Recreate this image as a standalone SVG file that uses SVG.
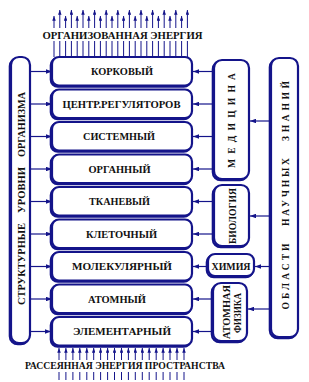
<svg xmlns="http://www.w3.org/2000/svg" width="309" height="382" viewBox="0 0 309 382">
<style>
.bx{fill:#fff;stroke:#14148a;stroke-width:2.2}
.sh{fill:none;stroke:#14148a;stroke-width:2.2}
.t{font-family:"Liberation Serif","Times New Roman",serif;font-weight:bold;font-size:10.5px;fill:#111;text-anchor:middle}
.s{font-family:"Liberation Serif","Times New Roman",serif;font-weight:bold;font-size:9.5px;fill:#111;text-anchor:middle}
.c{stroke:#14148a;stroke-width:1.2;fill:none}
.ca{stroke:#14148a;stroke-width:1;fill:none}
</style>
<defs>
<marker id="ah" viewBox="0 0 8 6" refX="8" refY="3" markerWidth="6" markerHeight="4.5" markerUnits="userSpaceOnUse" orient="auto"><path d="M0,0L8,3L0,6z" fill="#14148a"/></marker>
<marker id="au" viewBox="0 0 8 6" refX="8" refY="3" markerWidth="5" markerHeight="3.5" markerUnits="userSpaceOnUse" orient="auto"><path d="M0,0L8,3L0,6z" fill="#14148a"/></marker>
</defs>

<g id="top-energy">
<text class="s" x="122.5" y="38.5" textLength="160" lengthAdjust="spacingAndGlyphs">ОРГАНИЗОВАННАЯ ЭНЕРГИЯ</text>
<g class="ca">
<line x1="54" y1="28" x2="54" y2="16" marker-end="url(#au)"/>
<line x1="59.8" y1="28" x2="59.8" y2="10" marker-end="url(#au)"/>
<line x1="65.6" y1="28" x2="65.6" y2="16" marker-end="url(#au)"/>
<line x1="71.4" y1="28" x2="71.4" y2="10" marker-end="url(#au)"/>
<line x1="77.2" y1="28" x2="77.2" y2="16" marker-end="url(#au)"/>
<line x1="83" y1="28" x2="83" y2="10" marker-end="url(#au)"/>
<line x1="88.8" y1="28" x2="88.8" y2="16" marker-end="url(#au)"/>
<line x1="94.6" y1="28" x2="94.6" y2="10" marker-end="url(#au)"/>
<line x1="100.4" y1="28" x2="100.4" y2="16" marker-end="url(#au)"/>
<line x1="106.2" y1="28" x2="106.2" y2="10" marker-end="url(#au)"/>
<line x1="112" y1="28" x2="112" y2="16" marker-end="url(#au)"/>
<line x1="117.8" y1="28" x2="117.8" y2="10" marker-end="url(#au)"/>
<line x1="123.6" y1="28" x2="123.6" y2="16" marker-end="url(#au)"/>
<line x1="129.4" y1="28" x2="129.4" y2="10" marker-end="url(#au)"/>
<line x1="135.2" y1="28" x2="135.2" y2="16" marker-end="url(#au)"/>
<line x1="141" y1="28" x2="141" y2="10" marker-end="url(#au)"/>
<line x1="146.8" y1="28" x2="146.8" y2="16" marker-end="url(#au)"/>
<line x1="152.6" y1="28" x2="152.6" y2="10" marker-end="url(#au)"/>
<line x1="158.4" y1="28" x2="158.4" y2="16" marker-end="url(#au)"/>
<line x1="164.2" y1="28" x2="164.2" y2="10" marker-end="url(#au)"/>
<line x1="170" y1="28" x2="170" y2="16" marker-end="url(#au)"/>
<line x1="175.8" y1="28" x2="175.8" y2="10" marker-end="url(#au)"/>
<line x1="181.6" y1="28" x2="181.6" y2="16" marker-end="url(#au)"/>
<line x1="187.4" y1="28" x2="187.4" y2="10" marker-end="url(#au)"/>
<path d="M54,41V57M59.8,41V57M65.6,41V57M71.4,41V57M77.2,41V57M83,41V57M88.8,41V57M94.6,41V57M100.4,41V57M106.2,41V57M112,41V57M117.8,41V57M123.6,41V57M129.4,41V57M135.2,41V57M141,41V57M146.8,41V57M152.6,41V57M158.4,41V57M164.2,41V57M170,41V57M175.8,41V57M181.6,41V57M187.4,41V57"/>
</g>
</g>

<g id="bottom-energy">
<text class="s" x="125" y="369" textLength="200" lengthAdjust="spacingAndGlyphs">РАССЕЯННАЯ ЭНЕРГИЯ ПРОСТРАНСТВА</text>
<g class="ca">
<line x1="59" y1="360" x2="59" y2="348" marker-end="url(#au)"/>
<line x1="65.9" y1="360" x2="65.9" y2="348" marker-end="url(#au)"/>
<line x1="72.9" y1="360" x2="72.9" y2="348" marker-end="url(#au)"/>
<line x1="79.8" y1="360" x2="79.8" y2="348" marker-end="url(#au)"/>
<line x1="86.8" y1="360" x2="86.8" y2="348" marker-end="url(#au)"/>
<line x1="93.7" y1="360" x2="93.7" y2="348" marker-end="url(#au)"/>
<line x1="100.6" y1="360" x2="100.6" y2="348" marker-end="url(#au)"/>
<line x1="107.6" y1="360" x2="107.6" y2="348" marker-end="url(#au)"/>
<line x1="114.5" y1="360" x2="114.5" y2="348" marker-end="url(#au)"/>
<line x1="121.5" y1="360" x2="121.5" y2="348" marker-end="url(#au)"/>
<line x1="128.4" y1="360" x2="128.4" y2="348" marker-end="url(#au)"/>
<line x1="135.3" y1="360" x2="135.3" y2="348" marker-end="url(#au)"/>
<line x1="142.3" y1="360" x2="142.3" y2="348" marker-end="url(#au)"/>
<line x1="149.2" y1="360" x2="149.2" y2="348" marker-end="url(#au)"/>
<line x1="156.2" y1="360" x2="156.2" y2="348" marker-end="url(#au)"/>
<line x1="163.1" y1="360" x2="163.1" y2="348" marker-end="url(#au)"/>
<line x1="170" y1="360" x2="170" y2="348" marker-end="url(#au)"/>
<line x1="177" y1="360" x2="177" y2="348" marker-end="url(#au)"/>
<line x1="184" y1="360" x2="184" y2="348" marker-end="url(#au)"/>
<path d="M59,372V380M65.9,372V380M72.9,372V380M79.8,372V380M86.8,372V380M93.7,372V380M100.6,372V380M107.6,372V380M114.5,372V380M121.5,372V380M128.4,372V380M135.3,372V380M142.3,372V380M149.2,372V380M156.2,372V380M163.1,372V380M170,372V380M177,372V380M184,372V380"/>
</g>
</g>

<g id="connectors" class="c">
<line x1="30" y1="71.5" x2="52" y2="71.5" marker-end="url(#ah)"/>
<line x1="30" y1="104" x2="52" y2="104" marker-end="url(#ah)"/>
<line x1="30" y1="136.5" x2="52" y2="136.5" marker-end="url(#ah)"/>
<line x1="30" y1="169" x2="52" y2="169" marker-end="url(#ah)"/>
<line x1="30" y1="201.5" x2="52" y2="201.5" marker-end="url(#ah)"/>
<line x1="30" y1="234" x2="52" y2="234" marker-end="url(#ah)"/>
<line x1="30" y1="266.5" x2="52" y2="266.5" marker-end="url(#ah)"/>
<line x1="30" y1="299" x2="52" y2="299" marker-end="url(#ah)"/>
<line x1="30" y1="331.5" x2="51" y2="331.5" marker-end="url(#ah)"/>
<line x1="214" y1="71.5" x2="193" y2="71.5" marker-end="url(#ah)"/>
<line x1="214" y1="104" x2="193" y2="104" marker-end="url(#ah)"/>
<line x1="214" y1="136.5" x2="193" y2="136.5" marker-end="url(#ah)"/>
<line x1="214" y1="169" x2="193" y2="169" marker-end="url(#ah)"/>
<line x1="214" y1="201.5" x2="193" y2="201.5" marker-end="url(#ah)"/>
<line x1="214" y1="234" x2="193" y2="234" marker-end="url(#ah)"/>
<line x1="208" y1="266.5" x2="193" y2="266.5" marker-end="url(#ah)"/>
<line x1="213" y1="299" x2="193" y2="299" marker-end="url(#ah)"/>
<line x1="213" y1="331.5" x2="193" y2="331.5" marker-end="url(#ah)"/>
<line x1="271" y1="121" x2="250" y2="121" marker-end="url(#ah)"/>
<line x1="271" y1="216" x2="250" y2="216" marker-end="url(#ah)"/>
<line x1="271" y1="266.5" x2="255" y2="266.5" marker-end="url(#ah)"/>
<line x1="271" y1="309" x2="248" y2="309" marker-end="url(#ah)"/>
</g>

<g id="structural-levels">
<rect class="sh" x="9.8" y="58.2" width="19" height="286" rx="8"/>
<rect class="bx" x="11" y="57" width="19" height="286" rx="8"/>
<g transform="rotate(-90)">
<text class="t" x="-264" y="24.5" textLength="82" lengthAdjust="spacingAndGlyphs">СТРУКТУРНЫЕ</text>
<text class="t" x="-190" y="24.5" textLength="46" lengthAdjust="spacingAndGlyphs">УРОВНИ</text>
<text class="t" x="-124.5" y="24.5" textLength="65" lengthAdjust="spacingAndGlyphs">ОРГАНИЗМА</text>
</g>
</g>

<g id="level-1"><rect class="sh" x="50.8" y="58.2" width="140" height="28.5" rx="7"/><rect class="bx" x="52" y="57" width="140" height="28.5" rx="7"/><text class="t" x="122" y="75" textLength="62" lengthAdjust="spacingAndGlyphs">КОРКОВЫЙ</text></g>
<g id="level-2"><rect class="sh" x="50.8" y="90.7" width="140" height="28.5" rx="7"/><rect class="bx" x="52" y="89.5" width="140" height="28.5" rx="7"/><text class="t" x="121.5" y="107.5" textLength="118" lengthAdjust="spacingAndGlyphs">ЦЕНТР.РЕГУЛЯТОРОВ</text></g>
<g id="level-3"><rect class="sh" x="50.8" y="123.2" width="140" height="28.5" rx="7"/><rect class="bx" x="52" y="122" width="140" height="28.5" rx="7"/><text class="t" x="119" y="140" textLength="72" lengthAdjust="spacingAndGlyphs">СИСТЕМНЫЙ</text></g>
<g id="level-4"><rect class="sh" x="50.8" y="155.7" width="140" height="28.5" rx="7"/><rect class="bx" x="52" y="154.5" width="140" height="28.5" rx="7"/><text class="t" x="119.5" y="172.5" textLength="62" lengthAdjust="spacingAndGlyphs">ОРГАННЫЙ</text></g>
<g id="level-5"><rect class="sh" x="50.8" y="188.2" width="140" height="28.5" rx="7"/><rect class="bx" x="52" y="187" width="140" height="28.5" rx="7"/><text class="t" x="119.5" y="205" textLength="61" lengthAdjust="spacingAndGlyphs">ТКАНЕВЫЙ</text></g>
<g id="level-6"><rect class="sh" x="50.8" y="220.7" width="140" height="28.5" rx="7"/><rect class="bx" x="52" y="219.5" width="140" height="28.5" rx="7"/><text class="t" x="121.5" y="237.5" textLength="71" lengthAdjust="spacingAndGlyphs">КЛЕТОЧНЫЙ</text></g>
<g id="level-7"><rect class="sh" x="50.8" y="253.2" width="140" height="28.5" rx="7"/><rect class="bx" x="52" y="252" width="140" height="28.5" rx="7"/><text class="t" x="122" y="270" textLength="100" lengthAdjust="spacingAndGlyphs">МОЛЕКУЛЯРНЫЙ</text></g>
<g id="level-8"><rect class="sh" x="50.8" y="285.7" width="140" height="28.5" rx="7"/><rect class="bx" x="52" y="284.5" width="140" height="28.5" rx="7"/><text class="t" x="117" y="302.5" textLength="58" lengthAdjust="spacingAndGlyphs">АТОМНЫЙ</text></g>
<g id="level-9"><rect class="sh" x="50.8" y="318.2" width="140" height="28.5" rx="7"/><rect class="bx" x="52" y="317" width="140" height="28.5" rx="7"/><text class="t" x="122" y="335" textLength="98" lengthAdjust="spacingAndGlyphs">ЭЛЕМЕНТАРНЫЙ</text></g>

<g id="medicine">
<rect class="sh" x="212.8" y="61.2" width="35" height="119" rx="8"/>
<rect class="bx" x="214" y="60" width="35" height="119" rx="8"/>
<text class="s" transform="rotate(-90)" x="-120.5" y="235" textLength="95" lengthAdjust="spacing">МЕДИЦИНА</text>
</g>
<g id="biology">
<rect class="sh" x="212.8" y="186.2" width="35" height="61" rx="8"/>
<rect class="bx" x="214" y="185" width="35" height="61" rx="8"/>
<text class="s" transform="rotate(-90)" x="-216" y="235.5" textLength="56" lengthAdjust="spacingAndGlyphs">БИОЛОГИЯ</text>
</g>
<g id="chemistry">
<rect class="sh" x="206.8" y="255.2" width="46" height="22" rx="7"/>
<rect class="bx" x="208" y="254" width="46" height="22" rx="7"/>
<text class="s" x="231" y="269.5" textLength="39" lengthAdjust="spacingAndGlyphs">ХИМИЯ</text>
</g>
<g id="atomic-physics">
<rect class="sh" x="211.8" y="284.2" width="34" height="58" rx="8"/>
<rect class="bx" x="213" y="283" width="34" height="58" rx="8"/>
<text class="s" transform="rotate(-90)" x="-312" y="229.5" textLength="54" lengthAdjust="spacingAndGlyphs">АТОМНАЯ</text>
<text class="s" transform="rotate(-90)" x="-313" y="240.5" textLength="40" lengthAdjust="spacingAndGlyphs">ФИЗИКА</text>
</g>
<g id="science-fields">
<rect class="sh" x="269.8" y="59.2" width="27" height="279" rx="8"/>
<rect class="bx" x="271" y="58" width="27" height="279" rx="8"/>
<g transform="rotate(-90)">
<text class="s" x="-276.5" y="288.5" textLength="66" lengthAdjust="spacing">ОБЛАСТИ</text>
<text class="s" x="-192" y="288.5" textLength="68" lengthAdjust="spacing">НАУЧНЫХ</text>
<text class="s" x="-111" y="288.5" textLength="60" lengthAdjust="spacing">ЗНАНИЙ</text>
</g>
</g>
</svg>
